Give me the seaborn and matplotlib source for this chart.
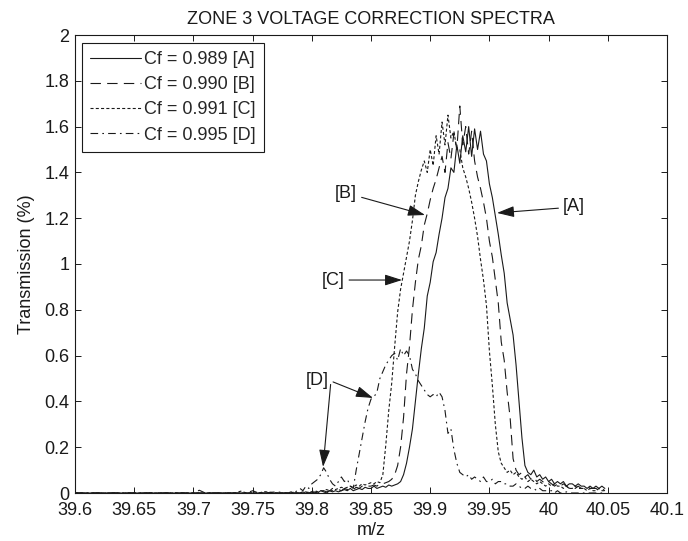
import matplotlib
matplotlib.use("Agg")
import matplotlib.pyplot as plt
import pandas as pd
import seaborn as sns

# m/z scan positions
mz = [
    39.600, 39.700, 39.705, 39.710, 39.735, 39.740, 39.745, 39.750, 39.755, 39.760, 39.770,
    39.7800, 39.7825, 39.7850, 39.7875,
    39.7900, 39.7925, 39.7950, 39.7975,
    39.8000, 39.8025, 39.8050, 39.8075,
    39.8100, 39.8125, 39.8150, 39.8175,
    39.8200, 39.8225, 39.8250, 39.8275,
    39.8300, 39.8325, 39.8350, 39.8375,
    39.8400, 39.8425, 39.8450, 39.8475,
    39.8500, 39.8525, 39.8550, 39.8575,
    39.8600, 39.8625, 39.8650, 39.8675,
    39.8700, 39.8725, 39.8750, 39.8775,
    39.8800, 39.8825, 39.8850, 39.8875,
    39.8900, 39.8925, 39.8950, 39.8975,
    39.9000, 39.9025, 39.9050, 39.9075,
    39.9100, 39.9125, 39.9150, 39.9175,
    39.9200, 39.9225, 39.9250, 39.9275,
    39.9300, 39.9325, 39.9350, 39.9375,
    39.9400, 39.9425, 39.9450, 39.9475,
    39.9500, 39.9525, 39.9550, 39.9575,
    39.9600, 39.9625, 39.9650, 39.9675,
    39.9700, 39.9725, 39.9750, 39.9775,
    39.9800, 39.9825, 39.9850, 39.9875,
    39.9900, 39.9925, 39.9950, 39.9975,
    40.0000, 40.0025, 40.0050, 40.0075,
    40.0100, 40.0125, 40.0150, 40.0175,
    40.0200, 40.0225, 40.0250, 40.0275,
    40.0300, 40.0325, 40.0350, 40.0375,
    40.0400, 40.0425, 40.0450, 40.0475,
]

# Transmission (%) for each correction factor
trans_a = [
    0, 0, 0, 0, 0, 0, 0, 0, 0, 0, 0,
    0, 0, 0, 0,
    0, 0, 0.005, 0,
    0, 0.005, 0, 0.01,
    0.005, 0, 0.01, 0.005,
    0.01, 0.005, 0.01, 0.015,
    0.01, 0.02, 0.01, 0.015,
    0.02, 0.015, 0.025, 0.02,
    0.02, 0.03, 0.02, 0.025,
    0.03, 0.025, 0.035, 0.03,
    0.035, 0.04, 0.05, 0.08,
    0.13, 0.20, 0.28, 0.40,
    0.52, 0.63, 0.72, 0.86,
    0.92, 1.01, 1.05, 1.13,
    1.20, 1.29, 1.33, 1.42,
    1.40, 1.52, 1.44, 1.56,
    1.49, 1.60, 1.47, 1.59,
    1.50, 1.58, 1.48, 1.45,
    1.35, 1.29, 1.21, 1.13,
    1.04, 0.96, 0.83, 0.76,
    0.69, 0.56, 0.40, 0.24,
    0.12, 0.09, 0.08, 0.10,
    0.07, 0.08, 0.06, 0.07,
    0.05, 0.06, 0.04, 0.05,
    0.04, 0.05, 0.03, 0.04,
    0.04, 0.03, 0.04, 0.03,
    0.03, 0.02, 0.03, 0.02,
    0.03, 0.02, 0.03, 0.02,
]

trans_b = [
    0, 0, 0, 0, 0, 0, 0, 0, 0, 0, 0,
    0, 0, 0, 0,
    0, 0.005, 0, 0,
    0.005, 0, 0.01, 0.005,
    0.01, 0.005, 0.01, 0.01,
    0.01, 0.015, 0.01, 0.02,
    0.015, 0.02, 0.015, 0.025,
    0.02, 0.03, 0.025, 0.03,
    0.03, 0.035, 0.03, 0.04,
    0.04, 0.045, 0.05, 0.06,
    0.08, 0.12, 0.20, 0.33,
    0.52, 0.64, 0.80, 0.92,
    1.02, 1.08, 1.17, 1.22,
    1.28, 1.33, 1.37, 1.42,
    1.47, 1.40, 1.53, 1.46,
    1.57, 1.50, 1.69, 1.52,
    1.60, 1.48, 1.58, 1.45,
    1.38, 1.33, 1.27, 1.20,
    1.10, 1.03, 0.93, 0.83,
    0.66, 0.58, 0.44, 0.33,
    0.15, 0.10, 0.08, 0.09,
    0.07, 0.08, 0.06, 0.07,
    0.05, 0.06, 0.05, 0.04,
    0.05, 0.04, 0.03, 0.04,
    0.03, 0.04, 0.03, 0.02,
    0.03, 0.02, 0.03, 0.02,
    0.02, 0.03, 0.02, 0.02,
    0.02, 0.01, 0.02, 0.01,
]

trans_c = [
    0, 0, 0, 0, 0, 0.008, 0, 0, 0, 0.006, 0,
    0, 0, 0.005, 0,
    0, 0.005, 0, 0.005,
    0.005, 0.01, 0.005, 0.01,
    0.01, 0.015, 0.01, 0.02,
    0.015, 0.02, 0.025, 0.02,
    0.025, 0.03, 0.025, 0.035,
    0.03, 0.04, 0.035, 0.04,
    0.045, 0.04, 0.05, 0.045,
    0.08, 0.21, 0.36, 0.48,
    0.64, 0.79, 0.89, 0.96,
    1.03, 1.10, 1.19, 1.30,
    1.36, 1.41, 1.45, 1.40,
    1.50, 1.43, 1.56, 1.48,
    1.62, 1.52, 1.65, 1.55,
    1.58, 1.50, 1.50, 1.42,
    1.38, 1.33, 1.27, 1.20,
    1.12, 1.02, 0.93, 0.82,
    0.62, 0.47, 0.30, 0.18,
    0.13, 0.11, 0.09, 0.10,
    0.08, 0.09, 0.07, 0.06,
    0.07, 0.05, 0.06, 0.05,
    0.04, 0.05, 0.04, 0.03,
    0.04, 0.03, 0.04, 0.03,
    0.03, 0.02, 0.03, 0.02,
    0.02, 0.03, 0.02, 0.02,
    0.02, 0.01, 0.02, 0.01,
    0.01, 0.02, 0.01, 0.01,
]

trans_d = [
    0, 0, 0.012, 0, 0, 0, 0, 0.01, 0, 0, 0.005,
    0, 0.005, 0, 0.01,
    0.02, 0.01, 0.03, 0.02,
    0.04, 0.05, 0.06, 0.08,
    0.11, 0.09, 0.06, 0.04,
    0.03, 0.05, 0.07, 0.05,
    0.06, 0.03, 0.02, 0.10,
    0.17, 0.24, 0.31, 0.37,
    0.41, 0.42, 0.44, 0.50,
    0.53, 0.56, 0.58, 0.60,
    0.61, 0.58, 0.63, 0.60,
    0.62, 0.60, 0.54, 0.52,
    0.49, 0.47, 0.45, 0.43,
    0.42, 0.43, 0.42, 0.44,
    0.42, 0.36, 0.26, 0.28,
    0.19, 0.13, 0.09, 0.08,
    0.07, 0.08, 0.06, 0.07,
    0.06, 0.05, 0.07, 0.05,
    0.05, 0.06, 0.04, 0.05,
    0.05, 0.04, 0.04, 0.03,
    0.03, 0.04, 0.03, 0.02,
    0.02, 0.03, 0.02, 0.02,
    0.01, 0.02, 0.01, 0.01,
    0.01, 0.01, 0.0, 0.01,
    0, 0, 0.005, 0,
    0, 0, 0, 0,
    0, 0, 0, 0,
    0, 0, 0, 0,
]

series_labels = ["Cf = 0.989 [A]", "Cf = 0.990 [B]", "Cf = 0.991 [C]", "Cf = 0.995 [D]"]
x_ticks = [39.6, 39.65, 39.7, 39.75, 39.8, 39.85, 39.9, 39.95, 40.0, 40.05, 40.1]
x_tick_labels = ["39.6", "39.65", "39.7", "39.75", "39.8", "39.85", "39.9", "39.95", "40", "40.05", "40.1"]
y_ticks = [0, 0.2, 0.4, 0.6, 0.8, 1.0, 1.2, 1.4, 1.6, 1.8, 2.0]
y_tick_labels = ["0", "0.2", "0.4", "0.6", "0.8", "1", "1.2", "1.4", "1.6", "1.8", "2"]

frames = []
for lab, vals in zip(series_labels, [trans_a, trans_b, trans_c, trans_d]):
    frames.append(pd.DataFrame({"mz": mz, "T": vals, "series": lab}))
df = pd.concat(frames, ignore_index=True)

sns.set_theme(style="ticks")
plt.rcParams["font.family"] = ["Liberation Sans", "DejaVu Sans"]
plt.rcParams["lines.scale_dashes"] = False
plt.rcParams["axes.linewidth"] = 0.8

FS = 13

fig = plt.figure(figsize=(6.88, 5.41), dpi=100)
ax = fig.add_axes([75 / 688, 48 / 541, 592 / 688, 458 / 541])

line_styles = ["-", (0, (7.5, 4.5)), (0, (2.2, 1.6)), (0, (5.5, 3, 1.2, 3))]
for lab, ls in zip(series_labels, line_styles):
    sns.lineplot(data=df[df["series"] == lab], x="mz", y="T", color="k", lw=0.8,
                 linestyle=ls, label=lab, estimator=None, sort=False, ax=ax)

ax.set_xlim(39.6, 40.1)
ax.set_ylim(0, 2)
ax.set_xticks(x_ticks)
ax.set_xticklabels(x_tick_labels)
ax.set_yticks(y_ticks)
ax.set_yticklabels(y_tick_labels)
ax.tick_params(direction="in", length=4.5, width=0.7, top=True, right=True,
               labelsize=FS, colors="k")
ax.tick_params(axis="x", pad=6.5)
ax.tick_params(axis="y", pad=4)
for sp in ax.spines.values():
    sp.set_visible(True)
    sp.set_color("k")
    sp.set_linewidth(0.8)

ax.set_title("ZONE 3 VOLTAGE CORRECTION SPECTRA", fontsize=FS, color="k", pad=8)
ax.set_xlabel("m/z", fontsize=FS, color="k", labelpad=2)
ax.set_ylabel("Transmission (%)", fontsize=FS, color="k", labelpad=7)

leg = ax.legend(loc="upper left", bbox_to_anchor=(7 / 592, 1 - 8 / 458), borderaxespad=0,
                fontsize=FS, frameon=True, fancybox=False, edgecolor="k",
                handlelength=2.8, handletextpad=0.2, labelspacing=0.45, borderpad=0.45)
leg.get_frame().set_linewidth(0.8)
leg.get_frame().set_alpha(1)

arrow = dict(arrowstyle="-|>,head_length=0.75,head_width=0.24", color="k", lw=0.8,
             mutation_scale=14, shrinkA=1, shrinkB=0)
txt = dict(fontsize=FS, ha="center", va="center", color="k")

ax.annotate("[A]", xy=(39.9564, 1.223), xytext=(40.0215, 1.249), arrowprops=arrow, **txt)
ax.annotate("[B]", xy=(39.8956, 1.214), xytext=(39.8289, 1.31), arrowprops=arrow, **txt)
ax.annotate("[C]", xy=(39.8762, 0.93), xytext=(39.8179, 0.93), arrowprops=arrow, **txt)
ax.annotate("[D]", xy=(39.8517, 0.415), xytext=(39.8044, 0.493),
            arrowprops=dict(arrow, relpos=(1.0, 0.5)), **txt)
ax.annotate("", xy=(39.8095, 0.114), xytext=(39.8160, 0.48), arrowprops=arrow)

fig.savefig("out.png", dpi=100)
